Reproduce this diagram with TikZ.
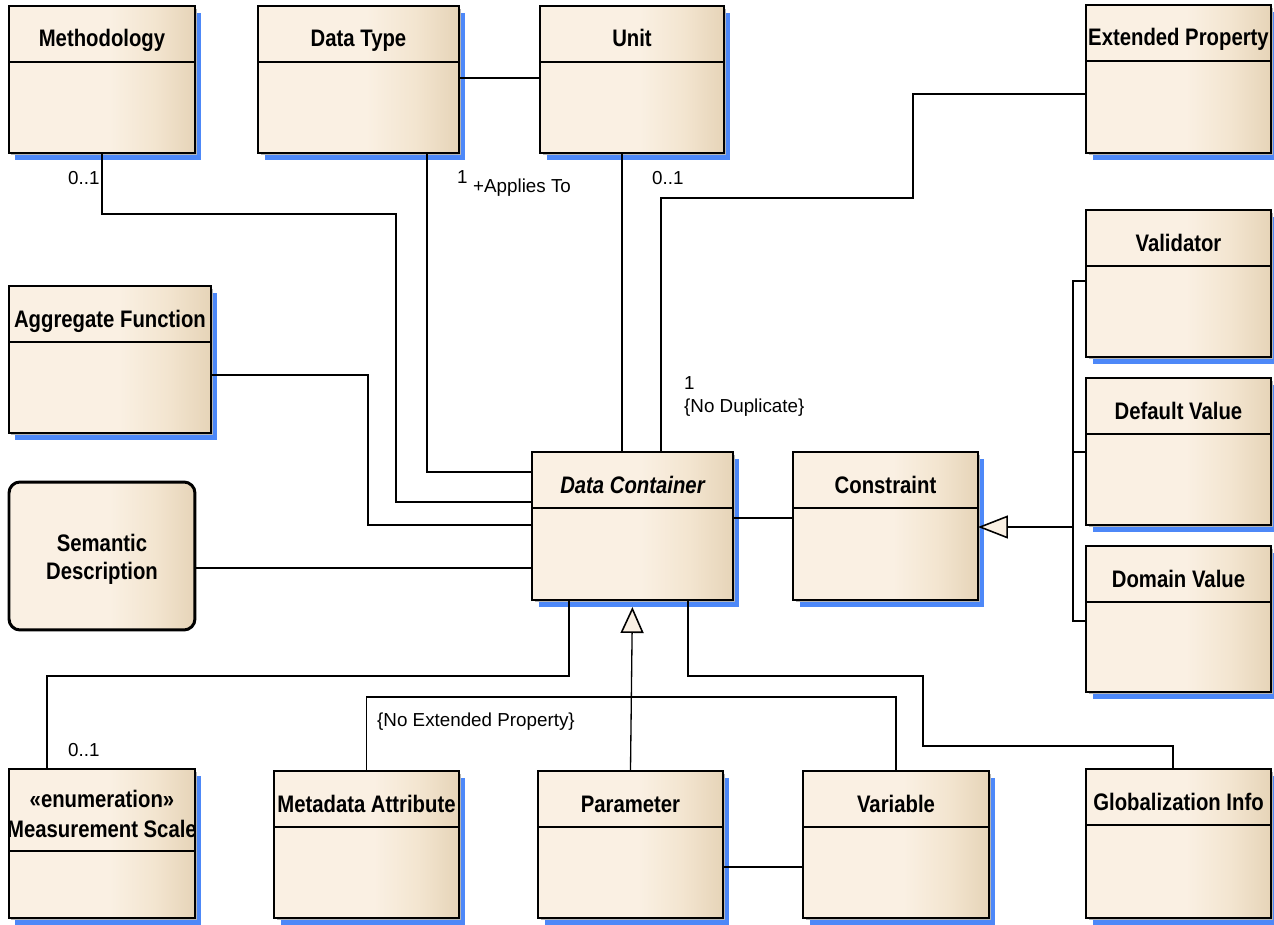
\documentclass[tikz,border=0pt]{standalone}
\usepackage{fontspec}
\setmainfont{Liberation Sans}
\newfontfamily\ttlfont[FakeStretch=0.85]{Liberation Sans}
\usepackage{xcolor}
\definecolor{classL}{HTML}{FAF0E3}
\definecolor{classM}{HTML}{F3E5D0}
\definecolor{classR}{HTML}{E6D4B8}
\definecolor{shBlue}{HTML}{4D88F8}
\definecolor{shGrey}{HTML}{B4B4B4}
\usepackage{tikz}
\usetikzlibrary{arrows.meta,shadows}
\pgfdeclarehorizontalshading{classfill}{100bp}{color(0bp)=(classL); color(52bp)=(classL); color(64bp)=(classM); color(75bp)=(classR); color(100bp)=(classR)}

\begin{document}
\begin{tikzpicture}[
    x=0.02cm, y=-0.02cm,
    every node/.style={font=\fontsize{10.7}{12.5}\selectfont},
    hdr/.store in=\hdrh,
    classbox/.style={draw, line width=1.2pt, shade, shading=classfill, anchor=north west,
        minimum width=3.72cm, minimum height=2.94cm, inner sep=0pt, outer sep=0pt, hdr=1.12cm,
        general shadow={fill=shBlue, shadow xshift=0.13cm, shadow yshift=-0.14cm},
        general shadow={fill=shGrey, shadow xshift=0.05cm, shadow yshift=-0.05cm},
        path picture={\draw[line width=0.8pt] ([yshift=-\hdrh]path picture bounding box.north west) -- ([yshift=-\hdrh]path picture bounding box.north east);}},
    notebox/.style={draw, line width=1.7pt, rounded corners=0.22cm, shade, shading=classfill, anchor=north west,
        minimum width=3.72cm, minimum height=2.96cm, inner sep=0pt, outer sep=0pt},
    ttl/.style={anchor=base, inner sep=0pt, font=\ttlfont\bfseries\fontsize{13.6}{15}\selectfont, yshift=#1},
    ttl/.default=-0.82cm,
    assoc/.style={line width=0.9pt},
    assocb/.style={line width=1.3pt},
    genl/.style={line width=0.75pt},
    gentip/.style={-{Triangle[length=#1, width=0.46cm, fill=classL, line width=0.9pt]}}
]
\useasboundingbox (0,0) rectangle (1274,924);

% Classes, top row
\node (method) [classbox, label={[ttl]north:Methodology}] at (9,6) {};
\node (dtype) [classbox, minimum width=4.02cm, label={[ttl]north:Data Type}] at (258,6) {};
\node (unit) [classbox, minimum width=3.68cm, label={[ttl]north:Unit}] at (540,6) {};
\node (extp) [classbox, minimum width=3.70cm, minimum height=2.96cm, label={[ttl]north:Extended Property}] at (1086,5) {};

% Classes, left and middle
\node (aggr) [classbox, minimum width=4.04cm, label={[ttl]north:Aggregate Function}] at (9,286) {};
\node (sem) [notebox, label={[ttl=-1.40cm]north:Semantic}, label={[ttl=-1.96cm]north:Description}] at (9,482) {};
\node (dc) [classbox, minimum width=4.02cm, minimum height=2.96cm, label={[ttl, font=\ttlfont\bfseries\itshape\fontsize{13.6}{15}\selectfont]north:Data Container}] at (532,452) {};
\node (cons) [classbox, minimum width=3.70cm, minimum height=2.96cm, label={[ttl]north:Constraint}] at (793,452) {};

% Constraint kinds
\node (valid) [classbox, minimum width=3.70cm, label={[ttl]north:Validator}] at (1086,210) {};
\node (dflt) [classbox, minimum width=3.70cm, label={[ttl]north:Default Value}] at (1086,378) {};
\node (domain) [classbox, minimum width=3.70cm, minimum height=2.92cm, label={[ttl]north:Domain Value}] at (1086,546) {};

% Classes, bottom row
\node (measure) [classbox, minimum height=2.98cm, hdr=1.64cm, label={[ttl=-0.76cm]north:«enumeration»}, label={[ttl=-1.36cm]north:Measurement Scale}] at (9,769) {};
\node (meta) [classbox, minimum width=3.70cm, label={[ttl]north:Metadata Attribute}] at (274,771) {};
\node (param) [classbox, minimum width=3.70cm, label={[ttl]north:Parameter}] at (538,771) {};
\node (var) [classbox, label={[ttl]north:Variable}] at (803,771) {};
\node (glob) [classbox, minimum width=3.70cm, minimum height=2.98cm, label={[ttl]north:Globalization Info}] at (1086,769) {};

% Associations
\draw[assocb] (method.south) |- (396,214) |- (dc.west |- 0,502);
\draw[assoc] (dtype.south -| 427,0) |- (dc.west |- 0,472);
\draw[assoc] (dtype.east |- 0,78) -- (unit.west |- 0,78);
\draw[assoc] (unit.south -| 622,0) -- (dc.north -| 622,0);
\draw[assocb] (dc.north -| 661,0) |- (913,198) |- (extp.west |- 0,94);
\draw[assoc] (aggr.east |- 0,375) -| (368,525) -- (dc.west |- 0,525);
\draw[assoc] (sem.east |- 0,568) -- (dc.west |- 0,568);
\draw[assoc] (dc.east |- 0,518) -- (cons.west |- 0,518);
\draw[assocb] (measure.north -| 47,0) |- (569,676) -- (dc.south -| 569,0);
\draw[assocb] (dc.south -| 688,0) |- (923,676) |- (1173,746) -- (glob.north -| 1173,0);
\draw[assoc] (param.east |- 0,867) -- (var.west |- 0,867);

% Generalizations
\coordinate (gbar) at (1073,527);
\draw[assoc] (valid.west |- 0,281) -| (gbar |- 0,621) -- (domain.west |- 0,621);
\draw[assoc] (gbar |- 0,452) -- (dflt.west |- 0,452);
\draw[assoc, gentip=0.6cm] (gbar) -- (cons.east |- gbar);
\draw[genl, gentip=0.52cm, shorten >=0.14cm] (param.north) -- (dc.south);
\draw[genl] (meta.north) |- (var.north |- 0,697) -- (var.north);

% Role and multiplicity labels
\node (m01) [anchor=west] at (62,178) {0..1};
\node (dt1) [anchor=west] at (451,177) {1};
\node (applies) [anchor=west] at (467,188) {+Applies To};
\node (u01) [anchor=west] at (646,178) {0..1};
\node (ep1) [anchor=west] at (678,383) {1};
\node (nodup) [anchor=west] at (678,408) {\{No Duplicate\}};
\node (ms01) [anchor=west] at (62,750) {0..1};
\node (noext) [anchor=west] at (371,722) {\{No Extended Property\}};
\end{tikzpicture}
\end{document}
